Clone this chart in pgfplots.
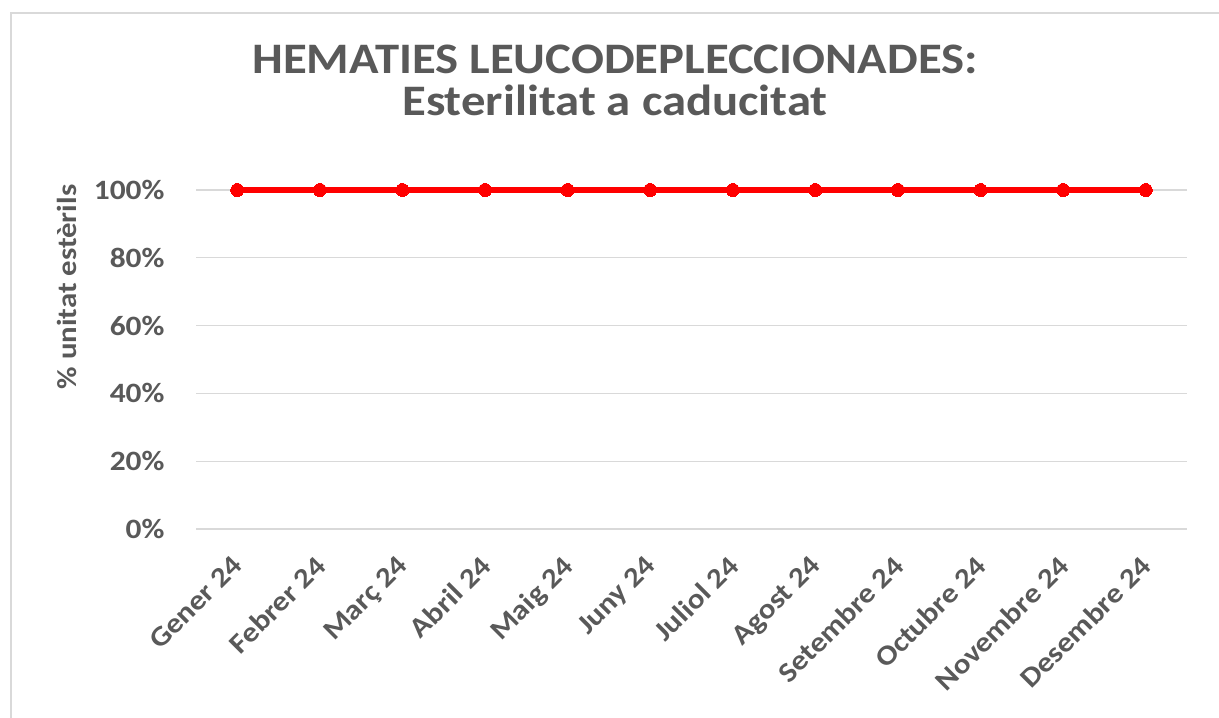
\documentclass[border=0pt]{standalone}
\usepackage{pgfplots}
\pgfplotsset{compat=1.18}
\usepackage{fontspec}
\setmainfont{Carlito}[FakeStretch=1.12]
\definecolor{txt}{HTML}{595959}
\definecolor{grd}{HTML}{D9D9D9}
\definecolor{frm}{HTML}{D9D9D9}
\begin{document}
\begin{tikzpicture}[x=1pt,y=1pt]
\path[use as bounding box] (0,0) rectangle (1219,718);
\fill[white] (0,0) rectangle (1219,718);
\draw[frm, line width=1.5pt] (11,0) -- (11,705) -- (1219,705);
\node[align=center, text=txt, font=\fontsize{43.5}{42}\selectfont\bfseries] at (615,638)
  {HEMATIES LEUCODEPLECCIONADES:\\[0pt]Esterilitat a caducitat};
\node[rotate=90, text=txt, font=\fontsize{27.5}{30}\selectfont\bfseries] at (67,431) {\% unitat estèrils};
\begin{axis}[
  at={(196pt,189pt)}, anchor=south west,
  scale only axis, width=991pt, height=339pt,
  xmin=-0.5, xmax=11.5, ymin=0, ymax=100,
  clip=false,
  axis line style={draw=none},
  major tick length=0pt,
  ymajorgrids, grid style={grd, line width=1.3pt},
  ytick={0,20,40,60,80,100},
  yticklabels={0\%,20\%,40\%,60\%,80\%,100\%},
  xtick={0,...,11},
  xticklabels={Gener 24,Febrer 24,Març 24,Abril 24,Maig 24,Juny 24,Juliol 24,Agost 24,Setembre 24,Octubre 24,Novembre 24,Desembre 24},
  yticklabel style={text=txt, font=\fontsize{28}{30}\selectfont\bfseries, xshift=-28pt},
  xticklabel style={text=txt, font=\fontsize{28}{30}\selectfont\bfseries, rotate=45, anchor=north east, inner sep=0pt, xshift=-22pt, yshift=-13pt},
]
\addplot[color=red, line width=5.5pt, mark=*, mark size=6.5pt, mark options={fill=red, draw=red, line width=0pt}]
coordinates {(0,100)(1,100)(2,100)(3,100)(4,100)(5,100)(6,100)(7,100)(8,100)(9,100)(10,100)(11,100)};
\end{axis}
\end{tikzpicture}
\end{document}
